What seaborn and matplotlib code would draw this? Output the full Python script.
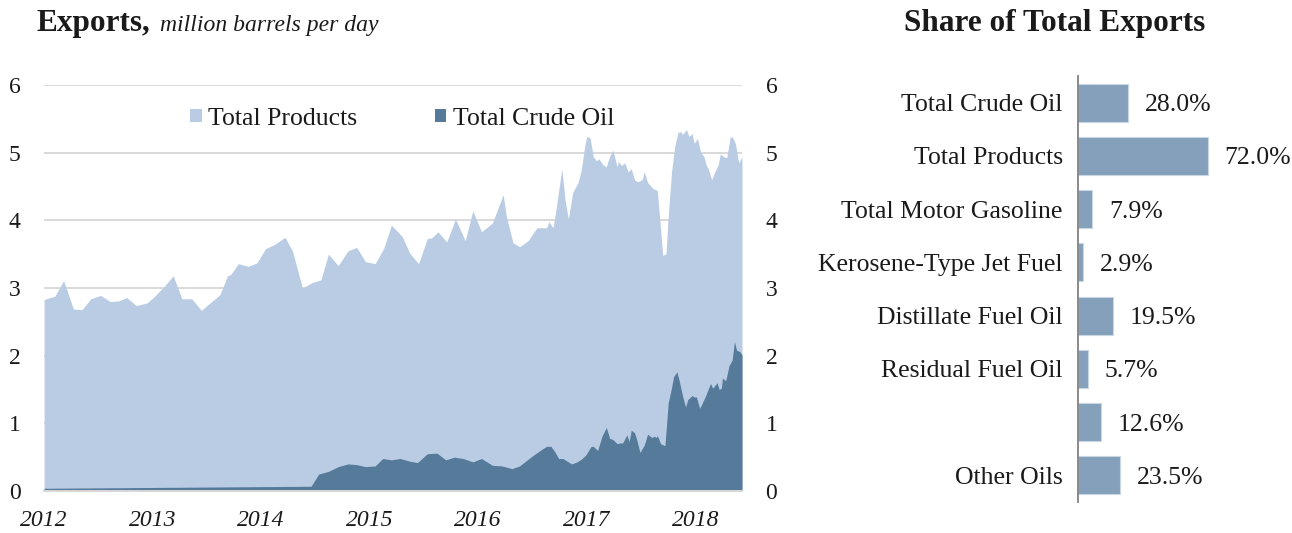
import matplotlib
matplotlib.use("Agg")
import matplotlib.pyplot as plt
from matplotlib.patches import Patch
import seaborn as sns
import pandas as pd

# ---- Weekly/monthly export volumes, million barrels per day ----
products_t = [
    2012.00, 2012.10, 2012.18, 2012.27, 2012.35, 2012.43, 2012.52, 2012.61, 2012.69, 2012.76,
    2012.85, 2012.95, 2013.02, 2013.11, 2013.19, 2013.27, 2013.36, 2013.45, 2013.53, 2013.62,
    2013.69, 2013.72, 2013.79, 2013.88, 2013.96, 2014.04, 2014.13, 2014.22, 2014.29, 2014.38,
    2014.47, 2014.55, 2014.62, 2014.71, 2014.80, 2014.88, 2014.96, 2015.05, 2015.13, 2015.20,
    2015.30, 2015.37, 2015.45, 2015.53, 2015.57, 2015.63, 2015.71, 2015.79, 2015.88, 2015.95,
    2016.03, 2016.13, 2016.23, 2016.26, 2016.32, 2016.38, 2016.46, 2016.54, 2016.63, 2016.65,
    2016.69, 2016.72, 2016.77, 2016.80, 2016.83, 2016.87, 2016.92, 2016.95, 2016.98, 2017.00,
    2017.03, 2017.06, 2017.09, 2017.11, 2017.15, 2017.18, 2017.20, 2017.24, 2017.28, 2017.29,
    2017.32, 2017.35, 2017.38, 2017.41, 2017.44, 2017.47, 2017.51, 2017.53, 2017.56, 2017.61,
    2017.65, 2017.70, 2017.73, 2017.75, 2017.78, 2017.81, 2017.84, 2017.87, 2017.88, 2017.92,
    2017.94, 2017.97, 2017.99, 2018.02, 2018.05, 2018.08, 2018.10, 2018.12, 2018.15, 2018.18,
    2018.21, 2018.23, 2018.27, 2018.29, 2018.32, 2018.34, 2018.37, 2018.40, 2018.43,
]
products_v = [
    2.83, 2.88, 3.11, 2.69, 2.68, 2.84, 2.89, 2.80, 2.81, 2.86,
    2.74, 2.78, 2.88, 3.03, 3.18, 2.84, 2.84, 2.67, 2.78, 2.90,
    3.18, 3.20, 3.36, 3.32, 3.37, 3.58, 3.65, 3.75, 3.54, 3.00,
    3.08, 3.12, 3.50, 3.33, 3.55, 3.60, 3.39, 3.36, 3.59, 3.93,
    3.76, 3.51, 3.36, 3.73, 3.74, 3.83, 3.68, 4.02, 3.70, 4.14,
    3.83, 3.96, 4.38, 4.05, 3.67, 3.61, 3.70, 3.89, 3.89, 3.98,
    3.89, 4.20, 4.76, 4.30, 4.02, 4.41, 4.56, 4.75, 5.09, 5.24,
    5.22, 4.94, 4.88, 4.91, 4.82, 4.79, 4.90, 5.04, 4.79, 4.87,
    4.81, 4.85, 4.72, 4.76, 4.60, 4.57, 4.60, 4.72, 4.56, 4.47,
    4.44, 3.48, 3.51, 4.05, 4.70, 5.09, 5.30, 5.31, 5.27, 5.34,
    5.24, 5.28, 5.14, 5.21, 5.00, 4.94, 4.82, 4.76, 4.60, 4.72,
    4.82, 4.98, 4.93, 4.93, 5.22, 5.24, 5.13, 4.85, 4.94,
]

crude_t = [
    2012.00, 2014.46, 2014.53, 2014.62, 2014.71, 2014.80, 2014.88, 2014.96, 2015.05, 2015.12,
    2015.20, 2015.28, 2015.37, 2015.44, 2015.53, 2015.62, 2015.70, 2015.78, 2015.86, 2015.95,
    2016.03, 2016.13, 2016.22, 2016.31, 2016.38, 2016.50, 2016.59, 2016.63, 2016.67, 2016.71,
    2016.74, 2016.78, 2016.82, 2016.86, 2016.91, 2016.95, 2016.99, 2017.04, 2017.06, 2017.10,
    2017.14, 2017.18, 2017.21, 2017.24, 2017.28, 2017.30, 2017.33, 2017.37, 2017.39, 2017.41,
    2017.44, 2017.46, 2017.49, 2017.53, 2017.56, 2017.60, 2017.62, 2017.64, 2017.65, 2017.68,
    2017.72, 2017.75, 2017.78, 2017.80, 2017.83, 2017.85, 2017.88, 2017.91, 2017.93, 2017.97,
    2017.99, 2018.01, 2018.04, 2018.09, 2018.11, 2018.14, 2018.16, 2018.20, 2018.22, 2018.24,
    2018.25, 2018.28, 2018.31, 2018.34, 2018.36, 2018.38, 2018.41, 2018.43,
]
crude_v = [
    0.04, 0.07, 0.25, 0.29, 0.36, 0.40, 0.39, 0.36, 0.37, 0.48,
    0.46, 0.48, 0.44, 0.42, 0.55, 0.56, 0.46, 0.50, 0.48, 0.43,
    0.48, 0.38, 0.37, 0.33, 0.37, 0.52, 0.62, 0.66, 0.66, 0.57,
    0.48, 0.48, 0.44, 0.40, 0.43, 0.47, 0.53, 0.66, 0.66, 0.60,
    0.81, 0.94, 0.78, 0.76, 0.70, 0.71, 0.71, 0.83, 0.73, 0.90,
    0.86, 0.76, 0.57, 0.68, 0.84, 0.79, 0.81, 0.79, 0.82, 0.70,
    0.67, 1.30, 1.52, 1.69, 1.76, 1.64, 1.42, 1.24, 1.35, 1.41,
    1.39, 1.39, 1.22, 1.39, 1.47, 1.59, 1.52, 1.60, 1.50, 1.52,
    1.67, 1.63, 1.85, 1.94, 2.21, 2.08, 2.06, 2.01,
]

year_ticks = [2012, 2013, 2014, 2015, 2016, 2017, 2018]

# ---- Share of total exports, percent ----
share_labels = [
    "Total Crude Oil", "Total Products", "Total Motor Gasoline",
    "Kerosene-Type Jet Fuel", "Distillate Fuel Oil", "Residual Fuel Oil",
    "", "Other Oils",
]
share_values = [28.0, 72.0, 7.9, 2.9, 19.5, 5.7, 12.6, 23.5]

# ---- Style ----
sns.set_theme(style="white")
SERIF = ["Liberation Serif", "DejaVu Serif"]
plt.rcParams["font.family"] = SERIF
plt.rcParams["text.color"] = "#1a1a1a"
plt.rcParams["axes.labelcolor"] = "#1a1a1a"
plt.rcParams["xtick.color"] = "#1a1a1a"
plt.rcParams["ytick.color"] = "#1a1a1a"

C_PRODUCTS = "#B9CCE4"
C_CRUDE = "#557A9A"
C_BAR = "#84A0BA"
C_GRID = "#D9D9D9"
LABEL_FS = 18.5

fig = plt.figure(figsize=(12.92, 5.33), dpi=100)

# ---- Left: area chart ----
ax = fig.add_axes([0.0341, 0.0788, 0.5402, 0.7617])
prod = pd.DataFrame({"t": products_t, "v": products_v})
crude = pd.DataFrame({"t": crude_t, "v": crude_v})
ax.fill_between(prod["t"], 0, prod["v"], color=C_PRODUCTS, lw=0, zorder=2)
ax.fill_between(crude["t"], 0, crude["v"], color=C_CRUDE, lw=0, zorder=3)

ax.set_xlim(2012.0, 2018.43)
ax.set_ylim(0, 6)
ax.set_yticks(range(0, 7))
ax.set_xticks(year_ticks)
ax.set_xticklabels([str(y) for y in year_ticks], fontstyle="italic", fontsize=17)
ax.grid(axis="y", color=C_GRID, lw=1.4, zorder=0)
ax.grid(axis="x", visible=False)
ax.set_axisbelow(True)
for s in ["top", "right", "left"]:
    ax.spines[s].set_visible(False)
ax.spines["bottom"].set_color(C_GRID)
ax.spines["bottom"].set_linewidth(1.4)
ax.spines["bottom"].set_zorder(4)
ax.tick_params(axis="y", length=0, pad=17, labelsize=17, labelleft=True, labelright=True)
ax.tick_params(axis="x", length=0, pad=14, labelsize=17)

handles = [Patch(facecolor=C_PRODUCTS, edgecolor="none", label="Total Products"),
           Patch(facecolor=C_CRUDE, edgecolor="none", label="Total Crude Oil")]
ax.legend(handles=handles, loc="center", bbox_to_anchor=(0.513, 0.917), ncol=2,
          frameon=False, fontsize=LABEL_FS, handlelength=0.45, handleheight=0.45,
          handletextpad=0.25, columnspacing=3.0)

fig.text(0.0286, 0.942, "Exports,", fontsize=22.5, fontweight="bold", va="baseline")
fig.text(0.1238, 0.942, "million barrels per day", fontsize=17, fontstyle="italic", va="baseline")

# ---- Right: share bars ----
ax2 = fig.add_axes([0.8344, 0.0582, 0.1393, 0.7992])
share = pd.DataFrame({"label": share_labels, "share": share_values})
sns.barplot(data=share, x="share", y="label", orient="h", color=C_BAR,
            width=0.71, edgecolor="#C9D6E3", linewidth=0.8, saturation=1, ax=ax2)
ax2.set_xlim(0, 100)
ax2.set_ylim(7.5, -0.5)
ax2.set_xlabel("")
ax2.set_ylabel("")
ax2.set_xticks([])
for s in ["top", "right", "bottom"]:
    ax2.spines[s].set_visible(False)
ax2.spines["left"].set_color("#808080")
ax2.spines["left"].set_linewidth(1.3)
ax2.tick_params(axis="y", length=0, pad=11, labelsize=LABEL_FS)
for i, v in enumerate(share_values):
    ax2.annotate(f"{v:.1f}%", xy=(v, i), xytext=(12, 0), textcoords="offset points",
                 va="center_baseline", ha="left", fontsize=LABEL_FS)

fig.text(0.8165, 0.942, "Share of Total Exports", fontsize=22.5, fontweight="bold",
         va="baseline", ha="center")

fig.savefig("out.png", dpi=100)
